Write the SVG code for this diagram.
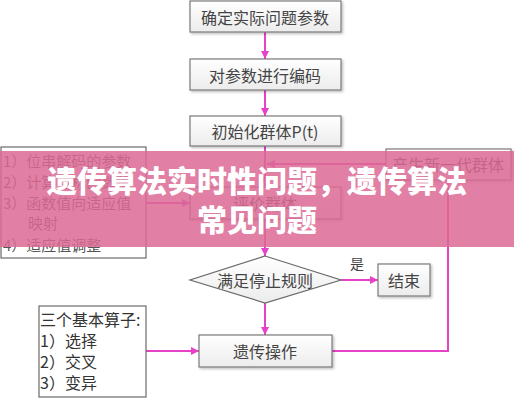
<svg xmlns="http://www.w3.org/2000/svg" width="514" height="400" viewBox="0 0 514 400">
<defs>
<linearGradient id="bg" x1="0" y1="0" x2="0" y2="1"><stop offset="0" stop-color="#ffffff"/><stop offset="1" stop-color="#ececec"/></linearGradient>
<filter id="sh" x="-10%" y="-10%" width="130%" height="140%"><feDropShadow dx="1.5" dy="1.5" stdDeviation="1" flood-color="#000" flood-opacity="0.25"/></filter>
<marker id="ah" viewBox="0 0 10 10" refX="10" refY="5" markerWidth="8" markerHeight="8" markerUnits="userSpaceOnUse" orient="auto"><path d="M0,0 L10,5 L0,10 z" fill="#e642c8"/></marker>
<style>
.box{fill:url(#bg);stroke:#7a7a7a;stroke-width:1.2;filter:url(#sh)}
.lbox{fill:#fff;stroke:#6a6a6a;stroke-width:1.2}
.t{font-family:"Noto Sans CJK SC","Liberation Sans",sans-serif;font-size:16px;fill:#444;text-anchor:middle;dominant-baseline:central}
.l{font-family:"Noto Sans CJK SC","Liberation Sans",sans-serif;font-size:15px;fill:#555}
.c{fill:none;stroke:#e642c8;stroke-width:2}
.bt{font-family:"Noto Sans CJK SC",sans-serif;font-size:30px;font-weight:900;fill:#fff;text-anchor:middle}
</style>
</defs>
<rect width="514" height="400" fill="#fff"/>
<g id="connectors">
<line class="c" x1="265" y1="32" x2="265" y2="59" marker-end="url(#ah)"/>
<line class="c" x1="265" y1="90" x2="265" y2="116" marker-end="url(#ah)"/>
<line class="c" x1="265" y1="146" x2="265" y2="186" marker-end="url(#ah)"/>
<line class="c" x1="386" y1="164" x2="267" y2="164" marker-end="url(#ah)"/>
<line class="c" x1="146" y1="203" x2="190" y2="203" marker-end="url(#ah)"/>
<line class="c" x1="265" y1="219" x2="265" y2="256" marker-end="url(#ah)"/>
<line class="c" x1="341" y1="280" x2="378" y2="280" marker-end="url(#ah)"/>
<line class="c" x1="265" y1="303" x2="265" y2="335" marker-end="url(#ah)"/>
<line class="c" x1="146" y1="351" x2="199" y2="351" marker-end="url(#ah)"/>
<polyline class="c" points="332,351 448,351 448,180"/>
<text x="357" y="269" style="font-family:'Noto Sans CJK SC',sans-serif;font-size:14px;fill:#444" text-anchor="middle">是</text>
</g>
<g id="n1"><rect class="box" x="190" y="1" width="151" height="31"/><text class="t" x="265" y="17">确定实际问题参数</text></g>
<g id="n2"><rect class="box" x="190" y="59" width="151" height="31"/><text class="t" x="265" y="75">对参数进行编码</text></g>
<g id="n3"><rect class="box" x="190" y="116" width="151" height="30"/><text class="t" x="265" y="131">初始化群体P(t)</text></g>
<g id="n4"><rect class="box" x="190" y="187" width="151" height="32"/><text class="t" x="265" y="203">评价群体</text></g>
<g id="n5"><rect class="box" x="386" y="149" width="125" height="31"/><text class="t" x="448" y="164">产生新一代群体</text></g>
<g id="n6"><rect class="lbox" x="1" y="147" width="145" height="111"/>
<text class="l" x="3" y="167">1）位串解码的参数</text>
<text class="l" x="3" y="188">2）计算目标函数值</text>
<text class="l" x="3" y="209">3）函数值向适应值</text>
<text class="l" x="28" y="229">映射</text>
<text class="l" x="3" y="251">4）适应值调整</text></g>
<g id="n7"><polygon points="265,256 341,280 265,303 190,280" fill="url(#bg)" stroke="#6a6a6a" stroke-width="1.2"/><text class="t" x="265" y="280">满足停止规则</text></g>
<g id="n8"><rect class="box" x="378" y="264" width="52" height="32"/><text class="t" x="404" y="280">结束</text></g>
<g id="n9"><rect class="box" x="199" y="335" width="133" height="32"/><text class="t" x="265" y="351">遗传操作</text></g>
<g id="n10"><rect class="lbox" x="39" y="306" width="107" height="91"/>
<text class="l" x="40" y="326" style="fill:#333;font-size:16px">三个基本算子:</text>
<text class="l" x="40" y="347" style="fill:#333;font-size:16px">1）选择</text>
<text class="l" x="40" y="368" style="fill:#333;font-size:16px">2）交叉</text>
<text class="l" x="40" y="389" style="fill:#333;font-size:16px">3）变异</text></g>
<g id="banner"><rect x="0" y="151" width="514" height="96" fill="#dc6a94" fill-opacity="0.85"/>
<text class="bt" x="257" y="192">遗传算法实时性问题，遗传算法</text>
<text class="bt" x="257" y="231">常见问题</text></g>
</svg>
